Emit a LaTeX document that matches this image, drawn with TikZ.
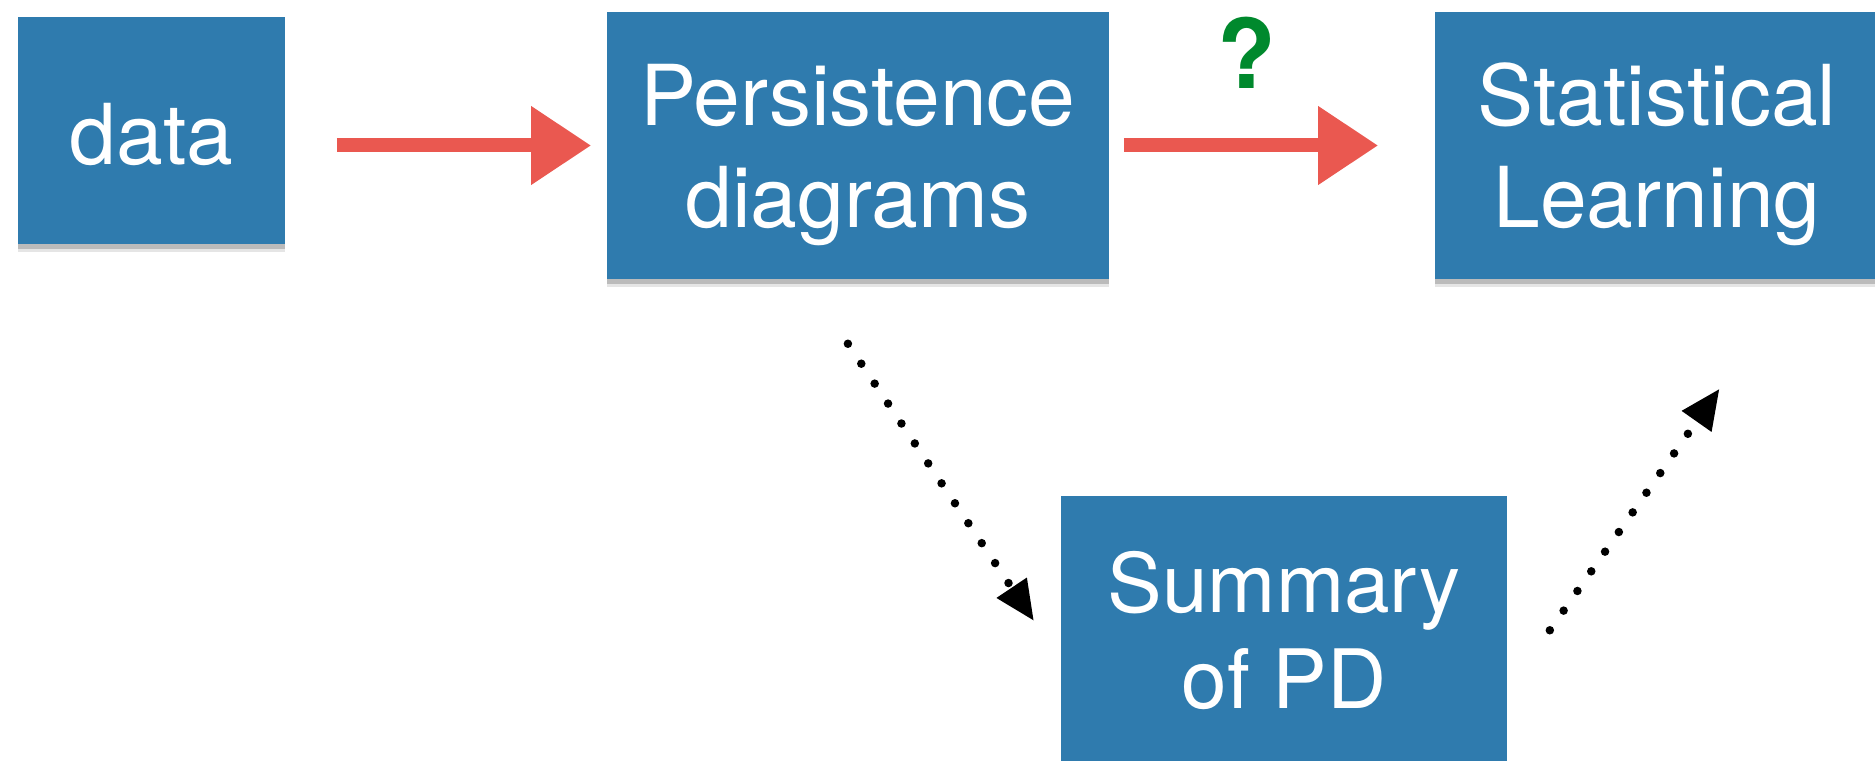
\documentclass[tikz,border=0pt]{standalone}
\usepackage{fontspec}
\setmainfont{TeX Gyre Heros}
\usetikzlibrary{arrows.meta,shadows}
\definecolor{boxblue}{RGB}{47,123,174}
\definecolor{chalkred}{RGB}{234,88,80}
\definecolor{qgreen}{RGB}{0,137,45}
\begin{document}
\begin{tikzpicture}[x=0.01cm,y=-0.01cm,
  box/.style={rectangle, fill=boxblue, text=white, inner sep=0pt, align=center,
     font=\fontsize{23.9pt}{29pt}\selectfont,
     general shadow={shadow xshift=0cm, shadow yshift=-0.08cm, opacity=0.10, fill=black},
     general shadow={shadow xshift=0cm, shadow yshift=-0.045cm, opacity=0.18, fill=black}},
  redarrow/.style={draw=chalkred, line width=0.14cm, -{Triangle[length=0.6cm,width=0.75cm]}},
  dotarrow/.style={draw=black, line width=0.085cm, line cap=round, dash pattern=on 0pt off 0.24cm,
     -{Triangle[length=0.40cm,width=0.34cm]}}]
\useasboundingbox (0,0) rectangle (1875,761);
\fill[white] (0,0) rectangle (1875,761);
\node[box, minimum width=2.67cm, minimum height=2.27cm, text height=0.67cm, text depth=0cm] (data) at (151.5,130.5) {data};
\node[box, minimum width=5.02cm, minimum height=2.67cm, text height=1.80cm, text depth=0.17cm] (pd) at (858,145.5) {Persistence\\diagrams};
\node[box, minimum width=4.44cm, minimum height=2.67cm, text height=1.80cm, text depth=0.17cm] (sl) at (1657,145.5) {Statistical\\Learning};
\node[box, font=\fontsize{23.3pt}{27.3pt}\selectfont, minimum width=4.46cm, minimum height=2.67cm, text height=1.74cm, text depth=0.18cm] (sum) at (1284,630) {Summary\\of PD};
\node[text=qgreen, font=\fontsize{27.3pt}{30pt}\selectfont\bfseries, inner sep=0pt, text height=0.70cm, text depth=0cm] (q) at (1247,53) {?};
\draw[redarrow, shorten <=0.51cm, shorten >=0.15cm] (data.east |- pd.west) -- (pd.west);
\draw[redarrow, shorten <=0.14cm, shorten >=0.56cm] (pd.east) -- (sl.west);
\draw[dotarrow, shorten <=0.77cm, shorten >=0.47cm] ([xshift=-0.53cm]pd.south) -- ([yshift=-0.30cm]sum.west);
\draw[dotarrow, shorten <=0.73cm, shorten >=1.33cm] ([yshift=-0.60cm]sum.east) -- ([xshift=1.39cm]sl.south);
\end{tikzpicture}
\end{document}
